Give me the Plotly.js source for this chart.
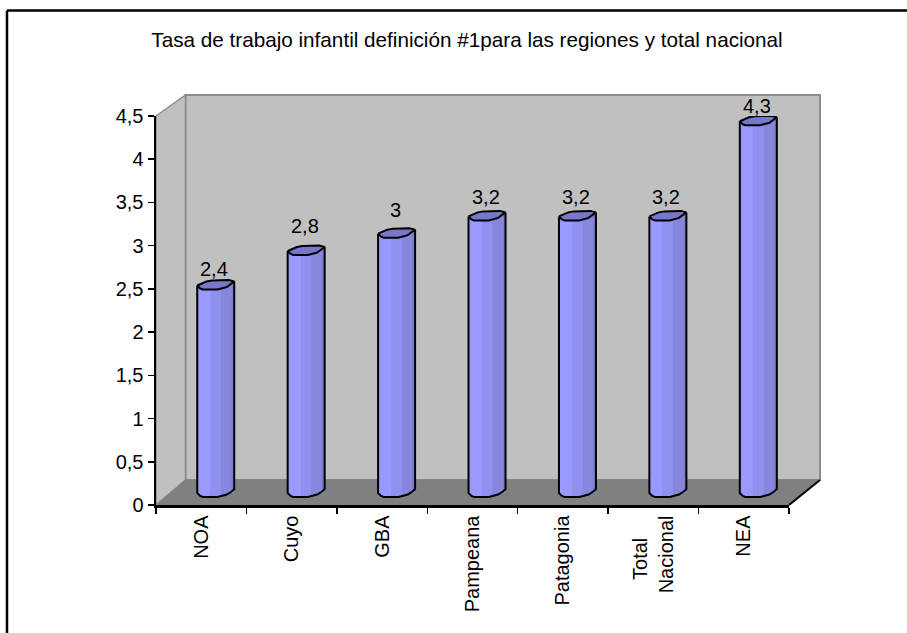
<!DOCTYPE html>
<html>
<head>
<meta charset="utf-8">
<script src="https://cdn.plot.ly/plotly-3.0.1.min.js"></script>
<style>html,body{margin:0;padding:0;background:#fff}#c{width:907px;height:633px}</style>
</head>
<body>
<div id="c"></div>
<script>
const categories = ['NOA','Cuyo','GBA','Pampeana','Patagonia','Total\u00a0\u00a0\u00a0\u00a0<br>Nacional','NEA'];
const values = [2.4,2.8,3,3.2,3.2,3.2,4.3];
const yTicks = [0,0.5,1,1.5,2,2.5,3,3.5,4,4.5];
const titleText = 'Tasa de trabajo infantil definición #1para las regiones y total nacional';
const labelLift = [21,29,28,23,23,23,19];

/* plot frame in page pixels */
const W=907,H=633,L=156,R=789,T=116,B=505;
const pxY=(B-T)/4.5, pxX=(R-L)/7;
const px=x=>(x-L)/(R-L), py=y=>(B-y)/(B-T);
const path=pts=>'M'+pts.map(p=>px(p[0])+','+py(p[1])).join('L')+'Z';

/* cylinder look (style, px units) */
const left=-0.044, cylW=37/pxX, baseY=8/pxY;
const frontProfile=[[0,4],[.08,1],[.15,0],[.55,0],[.8,2.5],[.95,6],[1,8]];
const backProfile=[[0,4],[.25,8],[.4,9],[.85,9.5],[1,8]];
const stripes=[[0,.36,'#9999ff'],[.36,.64,'#9090ee'],[.64,.92,'#8686dc'],[.92,1,'#7c7cce']];
function lerp(p,f){for(let k=1;k<p.length;k++){if(f<=p[k][0]){const a=p[k-1],b=p[k];return (a[1]+(b[1]-a[1])*(f-a[0])/(b[0]-a[0]))/pxY;}}return p[p.length-1][1]/pxY;}
const fs=(a,b,p)=>[a,...p.map(q=>q[0]).filter(f=>f>a&&f<b),b];

const traces=[];
traces.push({type:'bar',x:categories,y:values.map(v=>v-4/pxY),base:values.map(()=>12/pxY),
  width:cylW*0.98,offset:left+cylW*0.01,marker:{color:'#9999ff',line:{width:0}},hoverinfo:'skip',showlegend:false});

for(const [a,b,col] of stripes){
  const xs=[],ys=[];
  values.forEach((v,i)=>{
    const fr=fs(a,b,frontProfile);
    fr.forEach(f=>{xs.push(i+left+f*cylW);ys.push(baseY+v+lerp(frontProfile,f));});
    fr.slice().reverse().forEach(f=>{xs.push(i+left+f*cylW);ys.push(baseY+lerp(frontProfile,f));});
    xs.push(null);ys.push(null);
  });
  traces.push({type:'scatter',mode:'lines',x:xs,y:ys,xaxis:'x2',yaxis:'y',fill:'toself',fillcolor:col,line:{width:0,color:col},hoverinfo:'skip',showlegend:false,cliponaxis:false});
}

/* top caps */
{
  const xs=[],ys=[];
  values.forEach((v,i)=>{
    frontProfile.forEach(q=>{xs.push(i+left+q[0]*cylW);ys.push(baseY+v+q[1]/pxY);});
    backProfile.slice().reverse().forEach(q=>{xs.push(i+left+q[0]*cylW);ys.push(baseY+v+q[1]/pxY);});
    xs.push(null);ys.push(null);
  });
  traces.push({type:'scatter',mode:'lines',x:xs,y:ys,xaxis:'x2',yaxis:'y',fill:'toself',fillcolor:'#7777cc',line:{width:2,color:'#000'},hoverinfo:'skip',showlegend:false,cliponaxis:false});
}
/* outlines */
{
  const xs=[],ys=[];
  values.forEach((v,i)=>{
    xs.push(i+left);ys.push(baseY+v+frontProfile[0][1]/pxY);
    frontProfile.forEach(q=>{xs.push(i+left+q[0]*cylW);ys.push(baseY+q[1]/pxY);});
    xs.push(i+left+cylW);ys.push(baseY+v+frontProfile[frontProfile.length-1][1]/pxY);
    xs.push(null);ys.push(null);
  });
  traces.push({type:'scatter',mode:'lines',x:xs,y:ys,xaxis:'x2',yaxis:'y',line:{width:2,color:'#000'},hoverinfo:'skip',showlegend:false,cliponaxis:false});
}

/* value labels */
const annotations=values.map((v,i)=>({xref:'x2',yref:'y',x:i+left+cylW/2-1.5/pxX,y:Math.min(baseY+v,4.49),
  yshift:labelLift[i]+(baseY+v-Math.min(baseY+v,4.49))*pxY,xanchor:'center',yanchor:'middle',showarrow:false,
  text:String(v).replace('.',','),font:{family:'"Liberation Sans",Arial,sans-serif',size:20,color:'#000'}}));

const grey='#808080';
const shapes=[
  {type:'path',xref:'paper',yref:'paper',layer:'below',path:path([[185.5,95],[820,95],[820,480],[185.5,480]]),fillcolor:'#c0c0c0',line:{color:'#8c8c8c',width:2}},
  {type:'path',xref:'paper',yref:'paper',layer:'below',path:path([[156,116],[185.5,95],[185.5,480],[156,505]]),fillcolor:'#c0c0c0',line:{color:'#8c8c8c',width:1.5}},
  {type:'path',xref:'paper',yref:'paper',layer:'below',path:path([[156,505],[185.5,480],[820,480],[789,505]]),fillcolor:grey,line:{color:grey,width:1}},
  {type:'line',xref:'paper',yref:'paper',x0:px(789),y0:py(505),x1:px(820),y1:py(480),line:{color:'#000',width:2}},
  {type:'line',xref:'paper',yref:'paper',x0:px(7),y0:py(633),x1:px(7),y1:py(10.5),line:{color:'#000',width:2.5}},
  {type:'line',xref:'paper',yref:'paper',x0:px(7),y0:py(10.5),x1:px(907),y1:py(10.5),line:{color:'#000',width:2.5}}
];

Plotly.newPlot('c',traces,{
  width:W,height:H,autosize:false,
  margin:{l:L,r:W-R,t:T,b:H-B,pad:0},
  paper_bgcolor:'#fff',plot_bgcolor:'rgba(0,0,0,0)',
  separators:',.',
  barmode:'overlay',showlegend:false,
  font:{family:'"Liberation Sans",Arial,sans-serif',color:'#000'},
  title:{text:titleText,x:467/W,xanchor:'center',y:1-40/H,yanchor:'middle',font:{size:20.7,color:'#000'}},
  xaxis:{type:'category',range:[-0.5,6.5],tickson:'boundaries',showgrid:false,zeroline:false,
    showline:true,linecolor:'#000',linewidth:2.5,ticks:'outside',ticklen:6,tickwidth:1.5,tickcolor:'#000',
    tickangle:-90,tickfont:{size:20},automargin:false},
  xaxis2:{overlaying:'x',range:[-0.5,6.5],visible:false,anchor:'y'},
  yaxis:{range:[0,4.5],tickvals:yTicks,showgrid:false,zeroline:false,
    showline:true,linecolor:'#000',linewidth:2.5,ticks:'outside',ticklen:6,tickwidth:1.5,tickcolor:'#000',
    tickfont:{size:20},automargin:false},
  shapes,annotations
},{displayModeBar:false,staticPlot:true});
</script>
</body>
</html>
